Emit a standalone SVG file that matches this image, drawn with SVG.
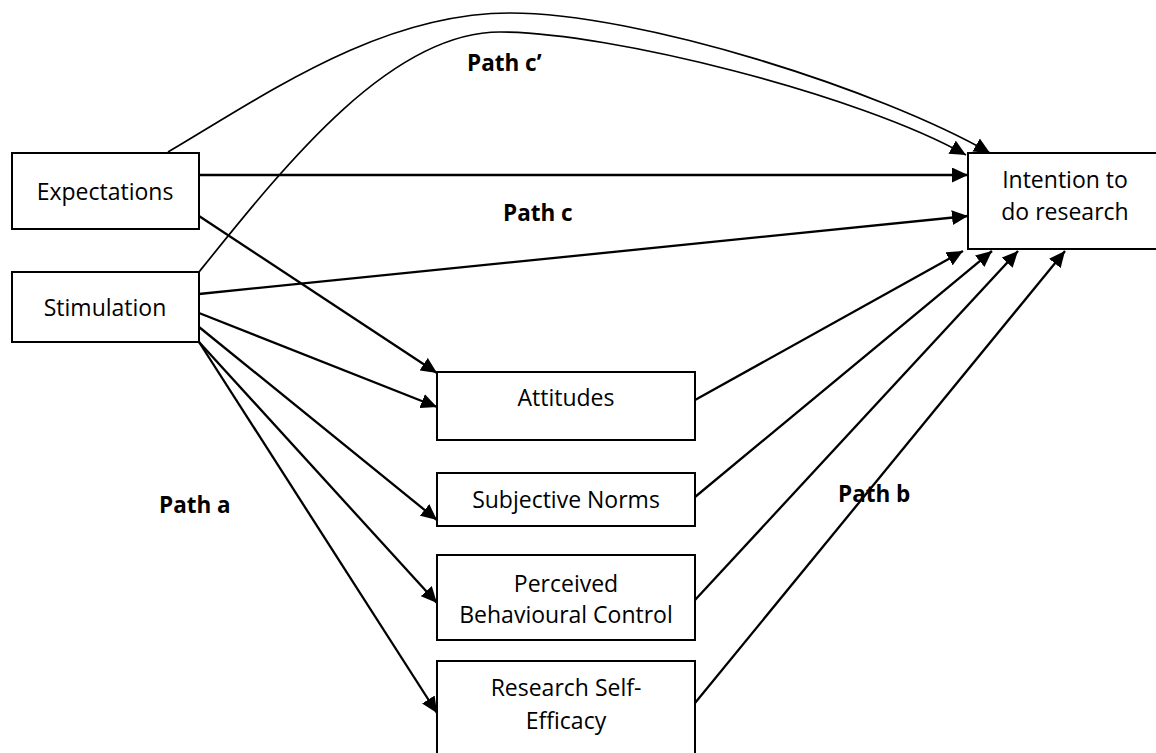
<svg xmlns="http://www.w3.org/2000/svg" width="1156" height="753" viewBox="0 0 1156 753">
  <style>
    .box { fill: #ffffff; stroke: #000000; stroke-width: 2; }
    .lbl { font-family: "Open Sans", "Liberation Sans", sans-serif; font-size: 23px; fill: #000000; text-anchor: middle; }
    .path-lbl { font-family: "Open Sans", "Liberation Sans", sans-serif; font-size: 22.5px; font-weight: bold; fill: #000000; }
    .edge { fill: none; stroke: #000000; stroke-width: 2.3; marker-end: url(#arrow); }
    .curve { fill: none; stroke: #000000; stroke-width: 1.7; marker-end: url(#arrow); }
  </style>
  <defs>
    <marker id="arrow" markerUnits="userSpaceOnUse" markerWidth="17" markerHeight="15" refX="16" refY="7.5" orient="auto">
      <path d="M0,0 L16,7.5 L0,15 z" fill="#000000"/>
    </marker>
  </defs>
  <rect width="1156" height="753" fill="#ffffff"/>

  <!-- connectors -->
  <g id="connectors">
    <!-- path c' : curved direct paths -->
    <path class="curve" d="M168,152 C265,95 380,13 510,13 S880,90 990,153"/>
    <path class="curve" d="M199,272 C285,165 390,32 500,32 S860,95 966,155"/>
    <!-- path c -->
    <line class="edge" x1="199" y1="175" x2="968" y2="175"/>
    <line class="edge" x1="199" y1="294" x2="968" y2="216"/>
    <!-- path a -->
    <line class="edge" x1="199" y1="216" x2="437" y2="373"/>
    <line class="edge" x1="199" y1="313" x2="437" y2="407"/>
    <line class="edge" x1="199" y1="327" x2="437" y2="520"/>
    <line class="edge" x1="199" y1="342" x2="437" y2="603"/>
    <line class="edge" x1="199" y1="342" x2="437" y2="713"/>
    <!-- path b -->
    <line class="edge" x1="695" y1="400" x2="963" y2="251"/>
    <line class="edge" x1="695" y1="497" x2="992" y2="251"/>
    <line class="edge" x1="695" y1="600" x2="1018" y2="251"/>
    <line class="edge" x1="695" y1="703" x2="1065" y2="251"/>
  </g>

  <!-- nodes -->
  <g id="expectations">
    <rect class="box" x="12" y="153" width="187" height="76"/>
    <text class="lbl" x="105" y="200">Expectations</text>
  </g>
  <g id="stimulation">
    <rect class="box" x="12" y="272" width="187" height="70"/>
    <text class="lbl" x="105" y="316">Stimulation</text>
  </g>
  <g id="intention">
    <rect class="box" x="968" y="153" width="192" height="96"/>
    <text class="lbl" x="1065" y="188">Intention to</text>
    <text class="lbl" x="1065" y="220">do research</text>
  </g>
  <g id="attitudes">
    <rect class="box" x="437" y="372" width="258" height="68"/>
    <text class="lbl" x="566" y="406">Attitudes</text>
  </g>
  <g id="subjective-norms">
    <rect class="box" x="437" y="473" width="258" height="53"/>
    <text class="lbl" x="566" y="508">Subjective Norms</text>
  </g>
  <g id="perceived-control">
    <rect class="box" x="437" y="555" width="258" height="85"/>
    <text class="lbl" x="566" y="592">Perceived</text>
    <text class="lbl" x="566" y="623">Behavioural Control</text>
  </g>
  <g id="self-efficacy">
    <rect class="box" x="437" y="661" width="258" height="100"/>
    <text class="lbl" x="566" y="696">Research Self-</text>
    <text class="lbl" x="566" y="729">Efficacy</text>
  </g>

  <!-- path labels -->
  <g id="labels">
    <text class="path-lbl" x="467" y="71">Path c’</text>
    <text class="path-lbl" x="503" y="221">Path c</text>
    <text class="path-lbl" x="159" y="513">Path a</text>
    <text class="path-lbl" x="838" y="502">Path b</text>
  </g>
</svg>
